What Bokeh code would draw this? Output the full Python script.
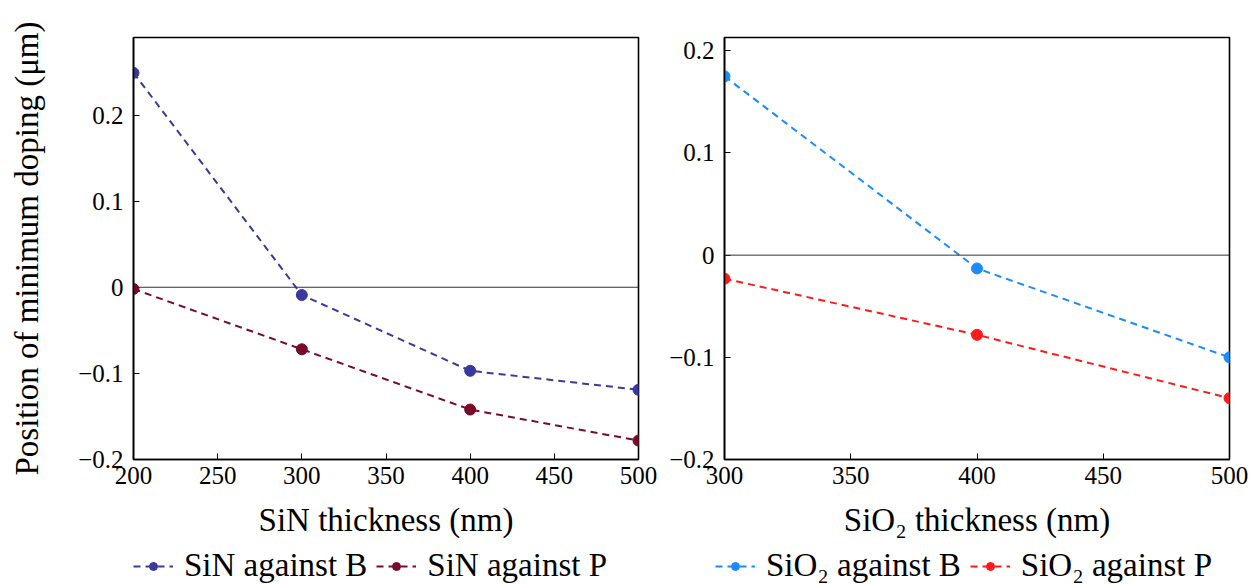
from bokeh.plotting import figure
from bokeh.models import Span, Legend, LegendItem, Range1d, FixedTicker
from bokeh.layouts import row, column
from bokeh.embed import file_html
from bokeh.resources import INLINE

# Data
sin_x = [200, 300, 400, 500]
sin_B = [0.249, -0.009, -0.097, -0.119]
sin_P = [-0.002, -0.072, -0.142, -0.178]

sio2_x = [300, 400, 500]
sio2_B = [0.175, -0.013, -0.100]
sio2_P = [-0.023, -0.078, -0.140]

left_xticks = [200, 250, 300, 350, 400, 450, 500]
right_xticks = [300, 350, 400, 450, 500]
left_yticks = [-0.2, -0.1, 0, 0.1, 0.2]
right_yticks = [-0.2, -0.1, 0, 0.1, 0.2]

FONT = "Liberation Serif"
TICK_FS = "25px"
LABEL_FS = "33px"
LEG_FS = "33px"
LINE_DASH = "7 5"


def make_fig(x, ys, colors, xr, yr, xticks, yticks, xlabel, ylabel,
             border_left, border_right):
    p = figure(output_backend="svg", toolbar_location=None,
               x_range=Range1d(*xr), y_range=Range1d(*yr),
               min_border_left=border_left, min_border_right=border_right,
               min_border_top=37, min_border_bottom=84)
    p.frame_width = 505
    p.frame_height = 422
    p.xgrid.visible = False
    p.ygrid.visible = False
    p.outline_line_color = "black"
    p.outline_line_width = 1.6
    p.add_layout(Span(location=0, dimension="width", line_color="#333333", line_width=1))
    for yv, c in zip(ys, colors):
        p.line(x, yv, line_color=c, line_width=2, line_dash=LINE_DASH)
        p.scatter(x, yv, size=11, fill_color=c, line_color=c)
    for ax in (p.xaxis[0], p.yaxis[0]):
        ax.major_label_text_font = FONT
        ax.major_label_text_font_size = TICK_FS
        ax.major_label_text_color = "black"
        ax.axis_label_text_font = FONT
        ax.axis_label_text_font_style = "normal"
        ax.axis_label_text_color = "black"
        ax.axis_line_width = 1.6
        ax.major_tick_in = 6
        ax.major_tick_out = 0
        ax.minor_tick_line_color = None
    p.xaxis[0].ticker = FixedTicker(ticks=xticks)
    p.yaxis[0].ticker = FixedTicker(ticks=yticks)
    p.xaxis[0].major_label_standoff = 7
    p.yaxis[0].major_label_standoff = 10
    p.yaxis[0].major_label_overrides = {-0.2: "\u22120.2", -0.1: "\u22120.1", 0: "0", 0.1: "0.1", 0.2: "0.2"}
    p.xaxis[0].axis_label = xlabel
    p.xaxis[0].axis_label_text_font_size = LABEL_FS
    p.xaxis[0].axis_label_standoff = 15
    if ylabel:
        p.yaxis[0].axis_label = ylabel
        p.yaxis[0].axis_label_text_font_size = "33px"
        p.yaxis[0].axis_label_standoff = 30
    return p


def make_legend(x, ys, colors, labels, width, leg_x):
    # legend-only strip: the series are drawn far outside its (0..1) ranges
    q = figure(width=width, height=41, output_backend="svg", toolbar_location=None,
               x_range=Range1d(0, 1), y_range=Range1d(0, 1),
               min_border=0)
    q.axis.visible = False
    q.xgrid.visible = False
    q.ygrid.visible = False
    q.outline_line_color = None
    items = []
    for yv, c, lab in zip(ys, colors, labels):
        l = q.line(x, yv, line_color=c, line_width=2, line_dash=LINE_DASH)
        s = q.scatter(x, yv, size=11, fill_color=c, line_color=c)
        items.append(LegendItem(label=lab, renderers=[l, s]))
    leg = Legend(items=items, orientation="horizontal", location=(leg_x, 0),
                 label_text_font=FONT, label_text_font_size=LEG_FS,
                 label_text_color="black",
                 border_line_color=None, background_fill_alpha=0,
                 glyph_width=40, spacing=9, padding=0, margin=0, label_standoff=11)
    q.add_layout(leg, "center")
    return q


c1 = ["#3a3a9e", "#7a0a2a"]
c2 = ["#1a8cff", "#ff1a1a"]
p1 = make_fig(sin_x, [sin_B, sin_P], c1, (200, 500), (-0.2, 0.29),
              left_xticks, left_yticks, "SiN thickness (nm)",
              "Position of minimum doping (\u03bcm)", 133, 20)
p2 = make_fig(sio2_x, [sio2_B, sio2_P], c2, (300, 500), (-0.2, 0.213),
              right_xticks, right_yticks, "SiO\u2082 thickness (nm)", None, 66, 28)
l1 = make_legend(sin_x, [sin_B, sin_P], c1, ["SiN against B", "SiN against P"], 658, 133)
l2 = make_legend(sio2_x, [sio2_B, sio2_P], c2, ["SiO\u2082 against B", "SiO\u2082 against P"], 600, 57)

layout = column(row(p1, p2), row(l1, l2), spacing=0)
open("out.html", "w").write(file_html(layout, INLINE))
